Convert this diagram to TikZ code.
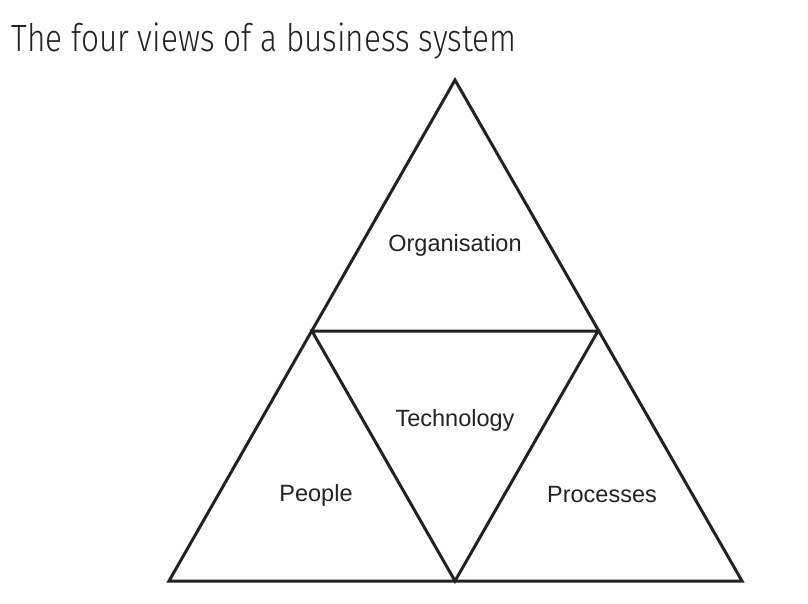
\documentclass[tikz,border=0pt]{standalone}
\usepackage{fontspec}
\setmainfont{Liberation Sans}
\newfontfamily\titlefont[FakeStretch=0.83]{Fira Sans Light}
\definecolor{linegray}{HTML}{222222}

\begin{document}
\begin{tikzpicture}[x=1pt, y=-1pt, line width=3pt,
    view/.style = {font=\fontsize{23.5}{26}\selectfont, text=linegray},
    edge/.style = {draw=linegray, line join=miter}]

    \useasboundingbox (0,0) rectangle (808,604);

    \node[anchor=base west, inner sep=0pt, font=\titlefont\fontsize{38}{40}\selectfont, text=linegray] (title) at (10,52) {The four views of a business system};

    \coordinate (apex) at (455, 80);
    \coordinate (bl) at (169, 581);
    \coordinate (br) at (742, 581);
    \coordinate (ml) at (312, 331);
    \coordinate (mr) at (598, 331);
    \coordinate (bm) at (455, 581);

    \draw[edge] (apex) -- (bl) -- (br) -- cycle;
    \draw[edge] (ml) -- (mr) -- (bm) -- cycle;

    \node[view] (org) at (455, 245) {Organisation};
    \node[view] (tech) at (455, 420) {Technology};
    \node[view] (people) at (316, 495) {People};
    \node[view] (proc) at (602, 495) {Processes};

\end{tikzpicture}
\end{document}
